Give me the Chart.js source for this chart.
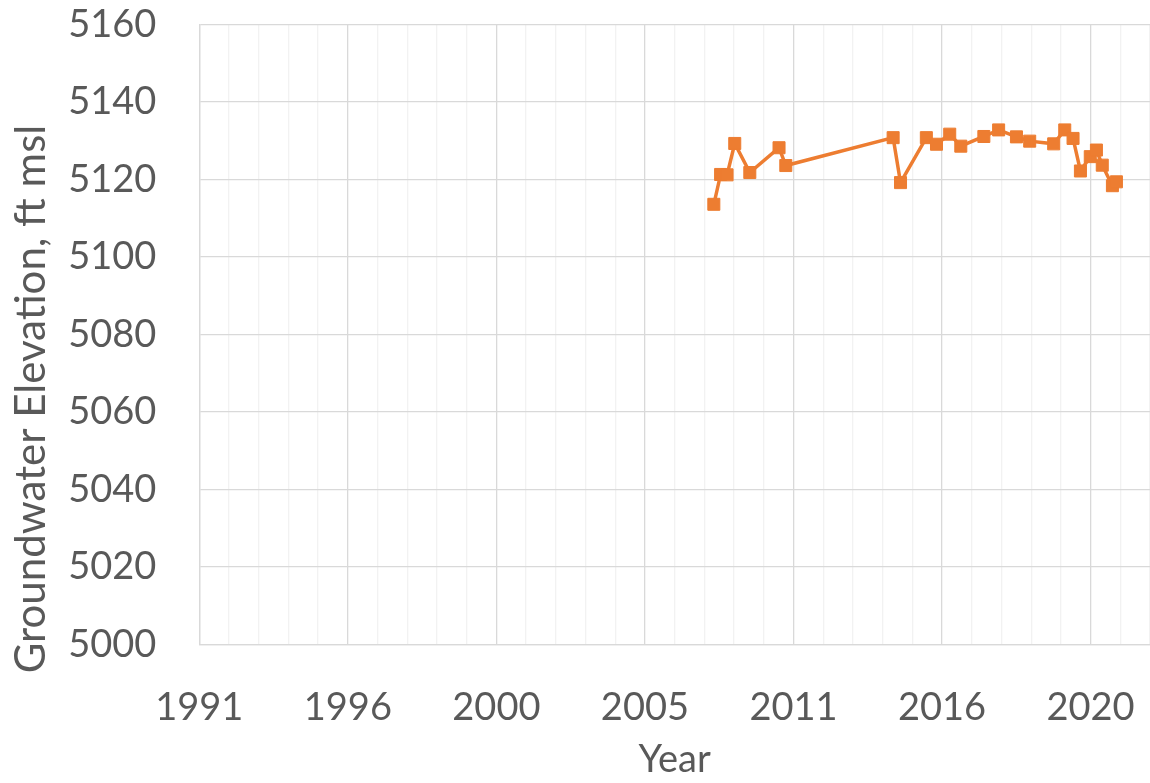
<!DOCTYPE html>
<html>
<head>
<meta charset="utf-8">
<title>Groundwater Elevation</title>
<script src="https://cdn.jsdelivr.net/npm/chart.js@4/dist/chart.umd.min.js"></script>
<style>
  html, body { margin: 0; padding: 0; background: #fff; }
  canvas { display: block; }
</style>
</head>
<body>
<canvas id="chart" width="1150" height="783"></canvas>
<script>
// axis setup (decimal years, labels as printed on the original axis)
const X_MIN = 1991.0;
const X_MAJOR = 4.83;
const X_LABELS = ['1991', '1996', '2000', '2005', '2011', '2016', '2020'];
const Y_TICKS = [5000, 5020, 5040, 5060, 5080, 5100, 5120, 5140, 5160];

// measurements
const years = [
  2007.73, 2007.95, 2008.16, 2008.41, 2008.90, 2009.85, 2010.07,
  2013.56, 2013.80, 2014.64, 2014.97, 2015.40, 2015.76, 2016.51,
  2016.99, 2017.57, 2018.00, 2018.78, 2019.14, 2019.41, 2019.65,
  2019.97, 2020.17, 2020.36, 2020.69, 2020.82
];
const elevations = [
  5113.6, 5121.3, 5121.2, 5129.3, 5121.8, 5128.2, 5123.6,
  5130.8, 5119.2, 5130.8, 5129.1, 5131.7, 5128.6, 5131.1,
  5132.8, 5131.0, 5129.9, 5129.2, 5132.8, 5130.6, 5122.2,
  5125.9, 5127.6, 5123.7, 5118.4, 5119.4
];

const TEXT = '#595959';
const FONT = 'Lato, "Open Sans", sans-serif';
const ORANGE = '#ED7D31';

// y axis title, drawn by hand so it can sit off the plot's centre like the original
const yTitle = {
  id: 'yTitle',
  afterDraw(chart) {
    const ctx = chart.ctx;
    ctx.save();
    ctx.translate(31, 399);
    ctx.rotate(-Math.PI / 2);
    ctx.font = '42px ' + FONT;
    ctx.fillStyle = TEXT;
    ctx.textAlign = 'center';
    ctx.textBaseline = 'middle';
    ctx.fillText('Groundwater Elevation, ft msl', 0, 0);
    ctx.restore();
  }
};

const noPad = s => {
  s.paddingLeft = 0;
  s.paddingRight = 0;
  s.paddingTop = 0;
  s.paddingBottom = 0;
};

new Chart(document.getElementById('chart'), {
  type: 'line',
  data: {
    datasets: [{
      data: years.map((x, i) => ({ x, y: elevations[i] })),
      borderColor: ORANGE,
      backgroundColor: ORANGE,
      borderWidth: 3.5,
      pointStyle: 'rect',
      pointRadius: 8.5,
      pointBorderWidth: 1,
      tension: 0
    }]
  },
  options: {
    responsive: false,
    devicePixelRatio: 1,
    animation: false,
    layout: { autoPadding: false, padding: { left: 0, right: 0, top: 24.5, bottom: 0 } },
    plugins: { legend: { display: false }, tooltip: { enabled: false } },
    scales: {
      x: {
        type: 'linear',
        min: X_MIN,
        max: X_MIN + 6.4 * X_MAJOR,
        afterBuildTicks: s => {
          s.ticks = [];
          for (let i = 0; i <= 32; i++) s.ticks.push({ value: X_MIN + i * X_MAJOR / 5 });
        },
        afterFit: s => {
          s.height = 783 - 644.5;
          noPad(s);
        },
        grid: {
          color: c => (c.index % 5 === 0 ? '#d9d9d9' : '#f2f2f2'),
          lineWidth: 1.3,
          drawTicks: false
        },
        border: { color: '#d9d9d9', width: 1.3 },
        ticks: {
          autoSkip: false,
          maxRotation: 0,
          padding: 40,
          color: TEXT,
          font: { family: FONT, size: 38 },
          callback: (v, i) => (i % 5 === 0 ? (X_LABELS[i / 5] || '') : '')
        },
        title: {
          display: true,
          text: 'Year',
          color: TEXT,
          font: { family: FONT, size: 38 },
          padding: { top: 0, bottom: 0 }
        }
      },
      y: {
        min: 5000,
        max: 5160,
        afterBuildTicks: s => { s.ticks = Y_TICKS.map(value => ({ value })); },
        afterFit: s => {
          s.width = 199.3;
          noPad(s);
        },
        grid: { color: '#d9d9d9', lineWidth: 1.3, drawTicks: false },
        border: { color: '#d9d9d9', width: 1.3 },
        ticks: {
          padding: 43,
          color: TEXT,
          font: { family: FONT, size: 38 },
          callback: v => String(v)
        }
      }
    }
  },
  plugins: [yTitle]
});
</script>
</body>
</html>
